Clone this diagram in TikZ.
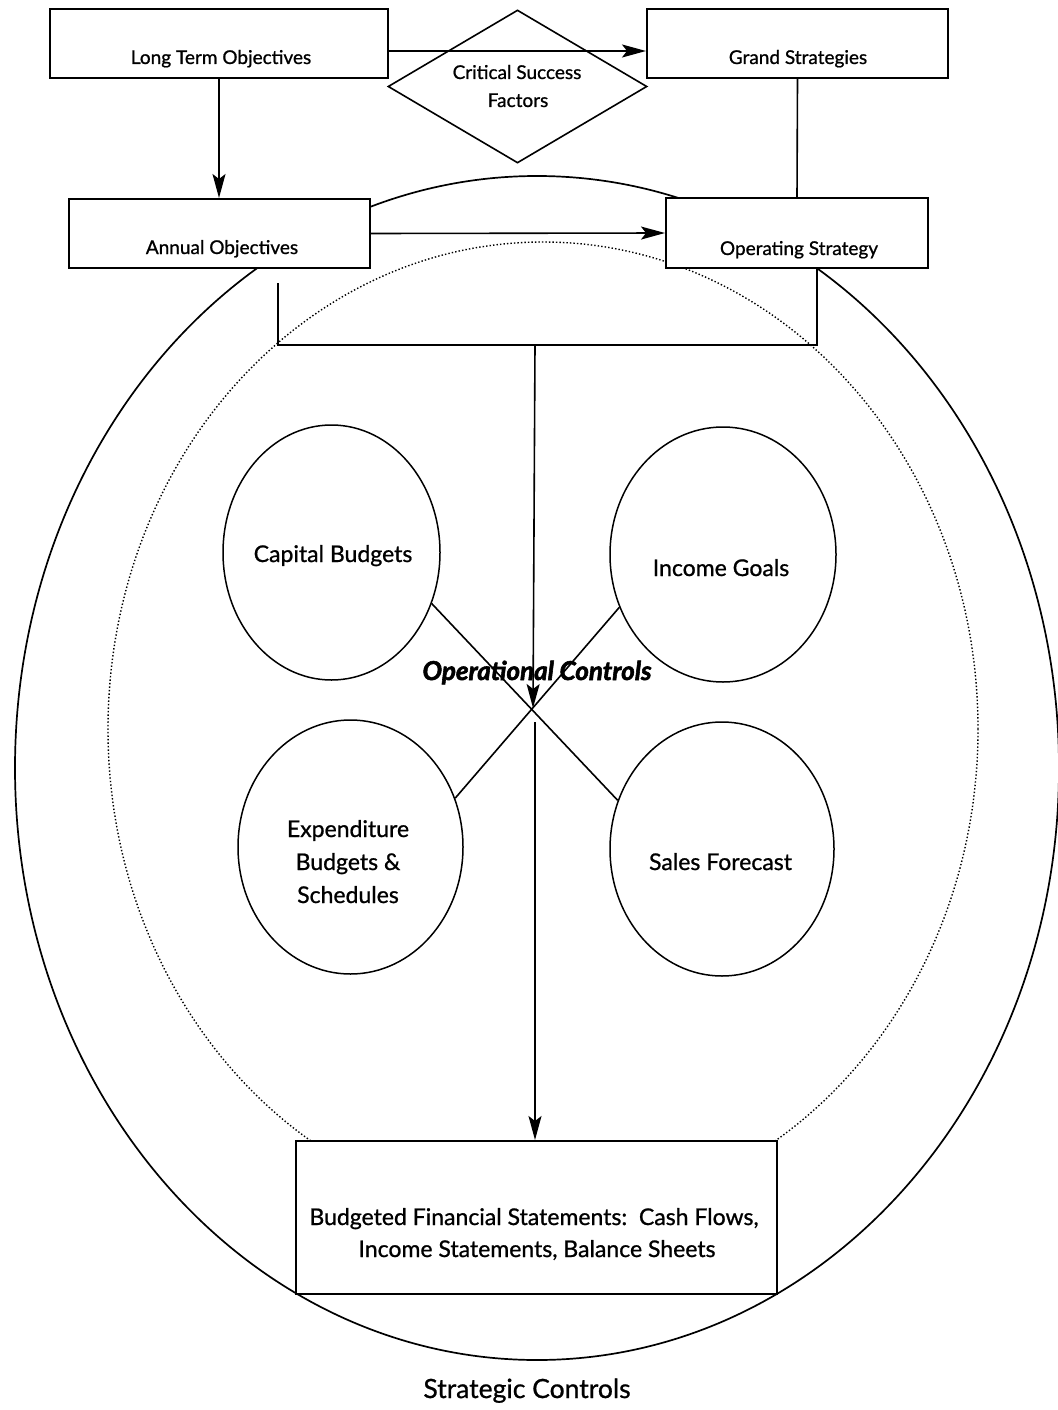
\documentclass[tikz,border=0pt]{standalone}
\usepackage{fontspec}
\setmainfont{Lato}[FakeBold=0.9]
\newfontfamily\heavyfont{Lato}[BoldItalicFeatures={FakeBold=2.2}]
\usetikzlibrary{shapes.geometric,arrows.meta}
\begin{document}
\begin{tikzpicture}[x=1pt, y=-1pt,
  box/.style={draw, rectangle, line width=2pt, fill=white, inner sep=0pt},
  oval/.style={draw, ellipse, line width=1.5pt, inner sep=0pt},
  region/.style={draw, ellipse, inner sep=0pt},
  dotline/.style={line width=1.4pt, dash pattern=on 1.4pt off 2.1pt},
  link/.style={line width=1.6pt},
  arr/.style={link, -{Stealth[length=24pt, width=13pt, inset=5pt]}},
  boxtext/.style={font=\fontsize{19}{23}\selectfont, anchor=base, inner sep=0pt},
  ovaltext/.style={font=\fontsize{23}{28}\selectfont, anchor=base, inner sep=0pt},
]
\useasboundingbox (0,0) rectangle (1057,1410);

% strategic (solid) and operational (dotted) control regions
\node[region, line width=1.7pt, minimum width=1044pt, minimum height=1184pt] (strategic) at (537,768) {};
\node[region, dotline, minimum width=870pt, minimum height=974pt] (operational) at (543,729) {};

% budget ovals
\node[oval, minimum width=217pt, minimum height=255pt] (capital) at (331.5,552.5) {};
\node[oval, minimum width=226pt, minimum height=255pt] (income) at (723,554.5) {};
\node[oval, minimum width=225pt, minimum height=254pt] (expend) at (350.5,847) {};
\node[oval, minimum width=224pt, minimum height=254pt] (sales) at (722,849) {};

% planning boxes
\node[box, minimum width=338pt, minimum height=69pt] (lto) at (219,43.5) {};
\node[box, minimum width=301pt, minimum height=69pt] (grand) at (797.5,43.5) {};
\node[box, minimum width=301pt, minimum height=69pt] (annual) at (219.5,233.5) {};
\node[box, minimum width=262pt, minimum height=70pt] (opstrat) at (797,233) {};
\node[box, minimum width=481pt, minimum height=153pt] (budget) at (536.5,1217.5) {};
\node[draw, diamond, line width=1.6pt, inner sep=0pt, minimum width=259pt, minimum height=153pt] (csf) at (517.5,86.5) {};

% connectors
\draw[arr] ([yshift=-7.5pt]lto.east) -- ([yshift=-7.5pt]grand.west);
\draw[arr] (lto.south) -- (lto.south |- annual.north);
\draw[arr] (annual.east) -- (opstrat.west);
\draw[link] (grand.south) -- (opstrat.north);
\coordinate (brL) at (278,283);
\coordinate (brR) at (817,345);
\draw[link] (brL) |- (brR) -- (brR |- opstrat.south);
\coordinate (drop) at (535,345);
\coordinate (hub) at (533,708);
\draw[arr] (drop) -- (hub);
\draw[link] (capital.-27) -- (sales.155);
\draw[link] (income.207) -- (expend.25);
\coordinate (hubout) at (535,722);
\draw[arr] (hubout) -- (budget.north -| hubout);

% texts
\node[boxtext] (tlto) at (221,64) {Long Term Objectives};
\node[boxtext] (tgrand) at (798,64) {Grand Strategies};
\node[boxtext] (tannual) at (222,254) {Annual Objectives};
\node[boxtext] (topstrat) at (799,255) {Operating Strategy};
\node[boxtext] (tcsf1) at (517,79) {Critical Success};
\node[boxtext] (tcsf2) at (518,107) {Factors};

\node[ovaltext] (tcap) at (333,562) {Capital Budgets};
\node[ovaltext] (tinc) at (721,576) {Income Goals};
\node[ovaltext] (texp1) at (348,837) {Expenditure};
\node[ovaltext] (texp2) at (348,870) {Budgets \&};
\node[ovaltext] (texp3) at (348,903) {Schedules};
\node[ovaltext] (tsal) at (720.5,870) {Sales Forecast};

\node[ovaltext] (tbud1) at (534,1225) {Budgeted Financial Statements:\ \ Cash Flows,};
\node[ovaltext] (tbud2) at (537,1257) {Income Statements, Balance Sheets};

\node[font=\heavyfont\fontsize{26}{30}\selectfont\bfseries\itshape, anchor=base, inner sep=0pt] (topc) at (537,680) {Operational Controls};
\node[font=\fontsize{26.5}{30}\selectfont, anchor=base, inner sep=0pt] (tstrat) at (527,1398) {Strategic Controls};
\end{tikzpicture}
\end{document}
